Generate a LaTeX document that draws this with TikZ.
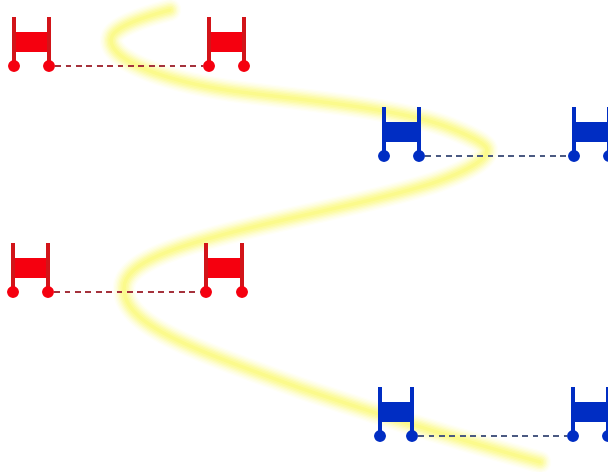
\documentclass[tikz,border=0pt]{standalone}
\definecolor{rbred}{RGB}{245,0,15}
\definecolor{rbpost}{RGB}{210,20,25}
\definecolor{rbblue}{RGB}{0,45,195}
\definecolor{rbdashr}{RGB}{165,50,60}
\definecolor{rbdashb}{RGB}{75,90,130}
\definecolor{glowc}{RGB}{250,248,100}
\tikzset{
  x=0.75pt,y=-0.75pt,
  wheel/.style={circle,fill=#1,draw=none,minimum size=8.8pt,inner sep=0pt},
  post/.style={line width=2.3pt,draw=#1},
  body/.style={fill=#1,draw=none},
  link/.style={dash pattern=on 4.4pt off 3.4pt,line width=1pt,draw=#1},
  glow/.style={line cap=round,line join=round,draw=glowc,opacity=#1},
  pics/robot/.style n args={3}{code={
    \fill[body=#1] (0,-34) rectangle (#3,-14);
    \draw[post=#2] (0,0) -- (0,-49);
    \draw[post=#2] (#3,0) -- (#3,-49);
    \node[wheel=#1] (-l) at (0,0) {};
    \node[wheel=#1] (-r) at (#3,0) {};
  }}
}
\newcommand{\glowpath}{(170,10) .. controls (140,18) and (111,28) .. (111,40)
  .. controls (111,62) and (170,82) .. (233,91)
  .. controls (300,100) and (400,108) .. (450,128)
  .. controls (475,138) and (487,145) .. (487,150)
  .. controls (487,160) and (465,172) .. (433,183)
  .. controls (380,200) and (300,215) .. (233,232)
  .. controls (180,246) and (124,262) .. (124,288)
  .. controls (124,325) and (190,348) .. (300,388)
  .. controls (380,415) and (460,440) .. (540,462)}
\begin{document}
\begin{tikzpicture}
\useasboundingbox (0,0) rectangle (608,472);
\foreach \w/\o in {17/0.05,15/0.07,13/0.09,11/0.12,9/0.16,7/0.2,5/0.22,2.5/0.3}{
  \draw[glow=\o,line width=\w pt] \glowpath;
}
\pic (a) at (14,66) {robot={rbred}{rbpost}{35}};
\pic (b) at (209,66) {robot={rbred}{rbpost}{35}};
\pic (c) at (384,156) {robot={rbblue}{rbblue}{35}};
\pic (d) at (574,156) {robot={rbblue}{rbblue}{35}};
\pic (e) at (13,292) {robot={rbred}{rbpost}{35}};
\pic (f) at (206,292) {robot={rbred}{rbpost}{36}};
\pic (g) at (380,436) {robot={rbblue}{rbblue}{32}};
\pic (h) at (573,436) {robot={rbblue}{rbblue}{35}};
\draw[link=rbdashr] (a-r) -- (b-l);
\draw[link=rbdashb] (c-r) -- (d-l);
\draw[link=rbdashr] (e-r) -- (f-l);
\draw[link=rbdashb] (g-r) -- (h-l);
\end{tikzpicture}
\end{document}
